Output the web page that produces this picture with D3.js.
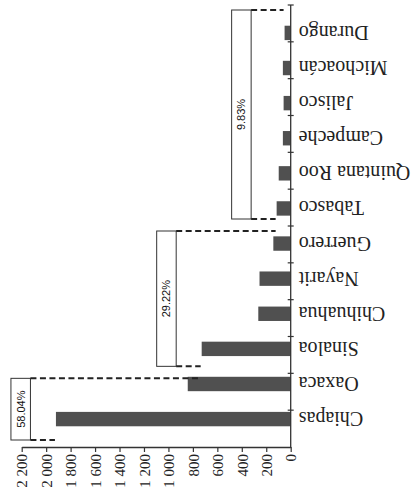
<!DOCTYPE html>
<html>
<head>
<meta charset="utf-8">
<script src="https://cdn.jsdelivr.net/npm/d3@7"></script>
<style>
  body { margin: 0; background: #fff; }
</style>
</head>
<body>
<script>
var categories = ["Chiapas", "Oaxaca", "Sinaloa", "Chihuahua", "Nayarit", "Guerrero",
                  "Tabasco", "Quintana Roo", "Campeche", "Jalisco", "Michoacán", "Durango"]
var values = [1920, 842, 728, 265, 255, 142, 115, 98, 64, 58, 64, 50]
var valueTicks = [0, 200, 400, 600, 800, 1000, 1200, 1400, 1600, 1800, 2000, 2200]
var groupLabels = ["58.04%", "29.22%", "9.83%"]
var groupSizes = [2, 4, 6]

var width = 414, height = 492
var svg = d3.select("body").append("svg")
    .attr("width", width)
    .attr("height", height)
    .style("background", "#fff")

// the page is turned: values grow to the left, categories run bottom to top
var x = d3.scaleLinear().domain([0, 2200]).range([290.7, 21.7])
var yb = d3.scaleBand().domain(categories).range([447, 5])
var y = yb.copy().padding(0.59)

var fmt = function(d) { return d >= 1000 ? d3.format(",")(d).replace(",", " ") : d }

// bars
svg.selectAll("rect.bar")
    .data(values)
    .enter()
    .append("rect")
    .attr("class", "bar")
    .attr("x", function(d) { return x(d) })
    .attr("y", function(d, i) { return y(categories[i]) })
    .attr("width", function(d) { return x(0) - x(d) })
    .attr("height", y.bandwidth())
    .attr("fill", "#505050")

// value axis
var ax = svg.append("g")
    .attr("transform", "translate(0,447)")
    .call(d3.axisBottom(x).tickValues(valueTicks).tickSize(5).tickSizeOuter(0).tickFormat(fmt))
ax.attr("font-family", "Liberation Serif").attr("font-size", 15)
ax.select(".domain").attr("stroke", "#333").attr("stroke-width", 1.3)
ax.selectAll(".tick line").attr("stroke", "#333").attr("stroke-width", 1.2)
ax.selectAll(".tick text")
    .attr("transform", "rotate(-90)")
    .attr("text-anchor", "end")
    .attr("x", -7)
    .attr("y", 0)
    .attr("dy", "0.35em")
    .attr("fill", "#222")

// category axis
var x0 = x(0)
svg.append("line")
    .attr("x1", x0).attr("x2", x0)
    .attr("y1", 5).attr("y2", 447)
    .attr("stroke", "#333").attr("stroke-width", 1.3)
var bounds = categories.map(function(c) { return yb(c) })
svg.selectAll("line.ctick")
    .data(bounds)
    .enter()
    .append("line")
    .attr("class", "ctick")
    .attr("x1", x0 - 3).attr("x2", x0 + 3)
    .attr("y1", function(d) { return d }).attr("y2", function(d) { return d })
    .attr("stroke", "#333").attr("stroke-width", 1.2)

svg.selectAll("text.cat")
    .data(categories)
    .enter()
    .append("text")
    .attr("class", "cat")
    .attr("x", x0 + 8)
    .attr("y", function(d) { return y(d) + y.bandwidth() / 2 })
    .attr("transform", function(d) { return "rotate(180," + (x0 + 8) + "," + (y(d) + y.bandwidth() / 2) + ")" })
    .attr("text-anchor", "end")
    .attr("dy", "0.35em")
    .attr("font-family", "Liberation Serif")
    .attr("font-size", 20)
    .attr("fill", "#222")
    .text(function(d) { return d })

// group brackets with percentage boxes
var start = 0
groupSizes.forEach(function(n, g) {
    var cats = categories.slice(start, start + n)
    var vals = values.slice(start, start + n)
    var bottomY = yb(cats[0]) + yb.step()
    var topY = yb(cats[n - 1])
    var boxTop = topY + 5, boxBottom = bottomY - 7
    var boxRight = x(d3.max(vals)) - 25.5
    var boxLeft = boxRight - 19.5
    var prev = start > 0 ? values[start - 1] : vals[0]
    var next = start + n < values.length ? values[start + n] : vals[n - 1]
    var topEnd = x(Math.min(vals[n - 1], next)) - 1
    var bottomEnd = x(Math.min(vals[0], prev)) - 1

    var grp = svg.append("g")
    grp.append("rect")
        .attr("x", boxLeft).attr("y", boxTop)
        .attr("width", boxRight - boxLeft).attr("height", boxBottom - boxTop)
        .attr("fill", "none").attr("stroke", "#333").attr("stroke-width", 1)
    grp.selectAll("line")
        .data([[boxTop, topEnd], [boxBottom, bottomEnd]])
        .enter()
        .append("line")
        .attr("x1", boxRight).attr("x2", function(d) { return d[1] })
        .attr("y1", function(d) { return d[0] }).attr("y2", function(d) { return d[0] })
        .attr("stroke", "#222").attr("stroke-width", 2)
        .attr("stroke-dasharray", "6,3.5")
    var cx = (boxLeft + boxRight) / 2, cy = (boxTop + boxBottom) / 2
    grp.append("text")
        .attr("x", cx).attr("y", cy)
        .attr("transform", "rotate(-90," + cx + "," + cy + ")")
        .attr("text-anchor", "middle")
        .attr("dy", "0.35em")
        .attr("font-family", "Liberation Sans")
        .attr("font-size", 11)
        .attr("fill", "#111")
        .text(groupLabels[g])
    start += n
})
</script>
</body>
</html>
